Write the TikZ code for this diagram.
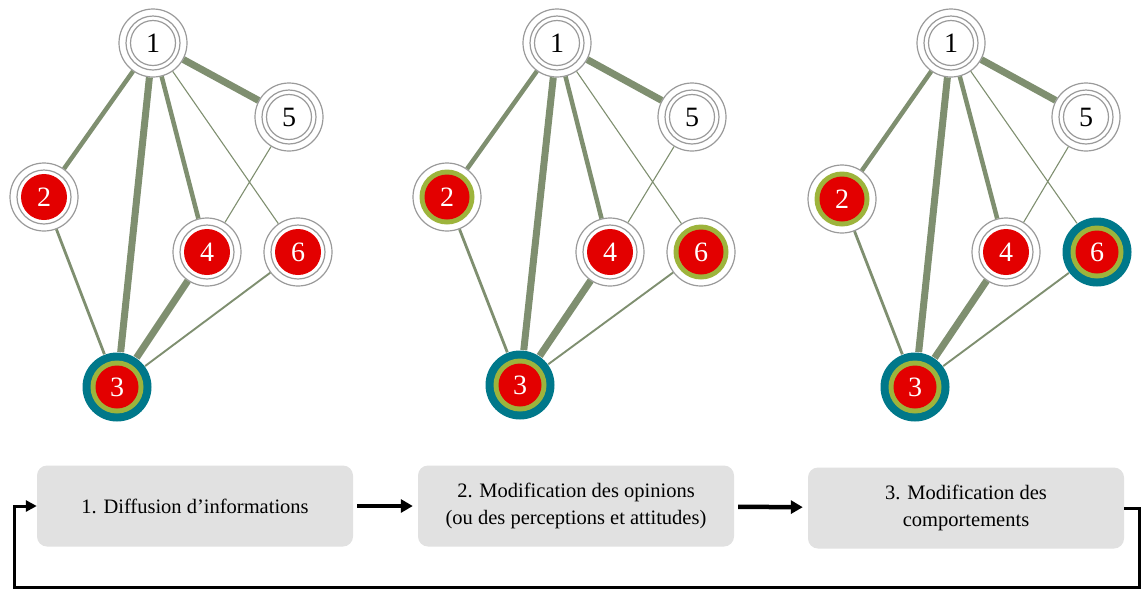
\documentclass[tikz,border=0pt]{standalone}
\usepackage{fontspec}
\setmainfont{Liberation Serif}
\usetikzlibrary{arrows.meta}

\definecolor{ringgray}{HTML}{9A9A9A}
\definecolor{tiegreen}{HTML}{7F8F70}
\definecolor{nodered}{HTML}{E30000}
\definecolor{ringgreen}{HTML}{9DB43C}
\definecolor{ringteal}{HTML}{00788A}
\definecolor{boxgray}{HTML}{E1E1E1}

\tikzset{
  actor/.style={circle, minimum size=68pt, inner sep=0pt, draw=ringgray, line width=1.2pt,
    fill=white, font=\fontsize{28}{28}\selectfont},
  neutral/.style={actor, path picture={
    \draw[ringgray, line width=1.2pt] (path picture bounding box.center) circle (27pt) circle (22.5pt);}},
  informed/.style={actor, text=white, path picture={
    \draw[ringgray, line width=1.2pt] (path picture bounding box.center) circle (27pt);
    \fill[nodered] (path picture bounding box.center) circle (23pt);}},
  convinced/.style={actor, text=white, path picture={
    \fill[ringgreen] (path picture bounding box.center) circle (27.5pt);
    \fill[nodered] (path picture bounding box.center) circle (22.5pt);}},
  adopter/.style={actor, text=white, draw=none, fill=ringteal, minimum size=69pt, path picture={
    \fill[ringgreen] (path picture bounding box.center) circle (26.5pt);
    \fill[nodered] (path picture bounding box.center) circle (21.5pt);}},
  tieXL/.style={draw=tiegreen, line width=7pt},
  tieL/.style={draw=tiegreen, line width=4.5pt},
  tieM/.style={draw=tiegreen, line width=2.8pt},
  tieS/.style={draw=tiegreen, line width=1.9pt},
  tieXS/.style={draw=tiegreen, line width=1.1pt},
  phase/.style={rectangle, rounded corners=10pt, fill=boxgray, minimum width=316pt,
    minimum height=81pt, align=center, font=\fontsize{20.5}{27}\selectfont},
  flow/.style={-{Triangle[length=12pt,width=13pt]}, line width=4.5pt, shorten <=4pt, shorten >=5pt},
  feedback/.style={-{Triangle[length=11pt,width=11pt]}, line width=3pt},
}

\begin{document}
\begin{tikzpicture}[x=1pt, y=-1pt]
\useasboundingbox (0,0) rectangle (1142,590);

% panel 1: diffusion
\node [neutral]  (a1) at (153,43)  {1};
\node [neutral]  (a5) at (289,117) {5};
\node [informed] (a2) at (44,197)  {2};
\node [informed] (a4) at (207,252) {4};
\node [informed] (a6) at (298,252) {6};
\node [adopter]  (a3) at (117,387) {3};

% panel 2: opinions
\node [neutral]   (b1) at (557,43)  {1};
\node [neutral]   (b5) at (692,117) {5};
\node [convinced] (b2) at (447,197) {2};
\node [informed]  (b4) at (610,252) {4};
\node [convinced] (b6) at (701,252) {6};
\node [adopter]   (b3) at (520,385) {3};

% panel 3: behaviours
\node [neutral]   (c1) at (951,43)   {1};
\node [neutral]   (c5) at (1086,117) {5};
\node [convinced] (c2) at (842,199)  {2};
\node [informed]  (c4) at (1006,252) {4};
\node [adopter]   (c6) at (1097,252) {6};
\node [adopter]   (c3) at (915,387)  {3};

\draw [tieXL] (a1)--(a5) (a1)--(a3) (a4)--(a3);
\draw [tieL]  (a1)--(a2) (a1)--(a4);
\draw [tieM]  (a2)--(a3);
\draw [tieS]  (a6)--(a3);
\draw [tieXS] (a1)--(a6) (a5)--(a4);

\draw [tieXL] (b1)--(b5) (b1)--(b3) (b4)--(b3);
\draw [tieL]  (b1)--(b2) (b1)--(b4);
\draw [tieM]  (b2)--(b3);
\draw [tieS]  (b6)--(b3);
\draw [tieXS] (b1)--(b6) (b5)--(b4);

\draw [tieXL] (c1)--(c5) (c1)--(c3) (c4)--(c3);
\draw [tieL]  (c1)--(c2) (c1)--(c4);
\draw [tieM]  (c2)--(c3);
\draw [tieS]  (c6)--(c3);
\draw [tieXS] (c1)--(c6) (c5)--(c4);

% cycle
\node [phase] (d1) at (195,506) {1. Diffusion d’informations};
\node [phase] (d2) at (576,506) {2. Modification des opinions\\(ou des perceptions et attitudes)};
\node [phase] (d3) at (966,508) {3. Modification des\\comportements};
\coordinate (back) at (14.5,587.5);

\draw [flow] (d1) -- (d2);
\draw [flow] (d2) -- (d3);
\draw [feedback] (d3.east) -- ++(15,0) |- (back) |- (d1.west);
\end{tikzpicture}
\end{document}
